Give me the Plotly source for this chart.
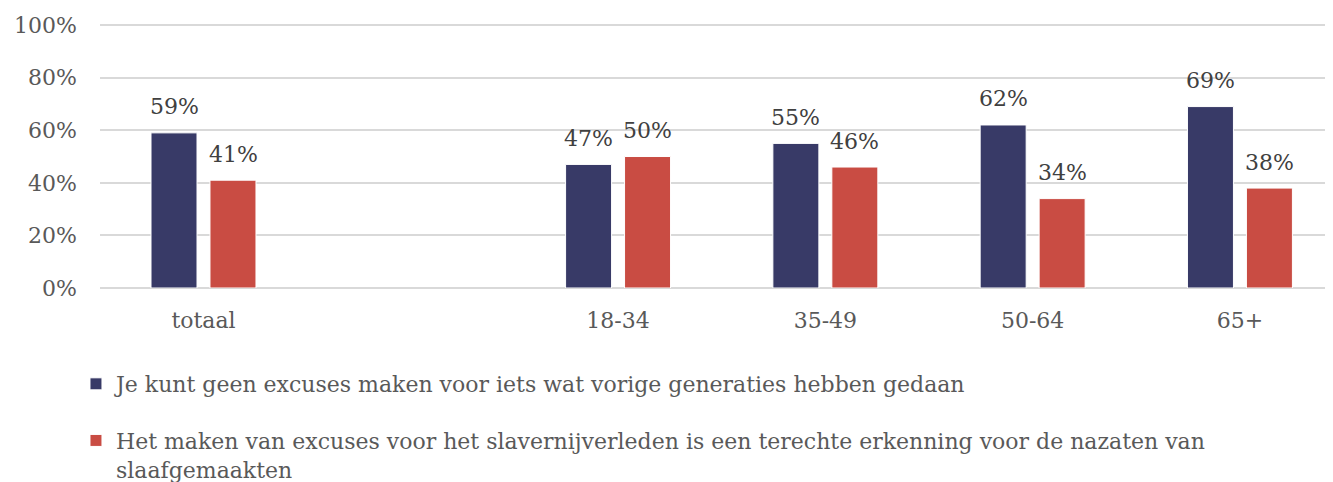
import plotly.graph_objects as go

categories = ["totaal", " ", "18-34", "35-49", "50-64", "65+"]
series1_name = "Je kunt geen excuses maken voor iets wat vorige generaties hebben gedaan"
series2_name = "Het maken van excuses voor het slavernijverleden is een terechte erkenning voor de nazaten van<br>slaafgemaakten"
series1_values = [59, None, 47, 55, 62, 69]
series2_values = [41, None, 50, 46, 34, 38]
y_tick_vals = [0, 20, 40, 60, 80, 100]
y_tick_text = ["0%", "20%", "40%", "60%", "80%", "100%"]

FONT = "DejaVu Serif"
GREY = "#595959"
LABEL = "#404040"
C1 = "#383A67"
C2 = "#C94C43"

fig = go.Figure()
fig.add_trace(go.Bar(
    x=categories, y=series1_values, name=series1_name,
    marker=dict(color=C1, line=dict(width=1, color="#FFFFFF")),
    legendgroup="a",
))
fig.add_trace(go.Bar(
    x=categories, y=series2_values, name=series2_name,
    marker=dict(color=C2, line=dict(width=1, color="#FFFFFF")),
    legendgroup="b",
))

# data labels placed above each bar (shift = half the distance between bar centres)
annotations = []
for vals, shift in ((series1_values, -29.5), (series2_values, 29.5)):
    for cat, v in zip(categories, vals):
        if v is None:
            continue
        annotations.append(dict(
            x=cat, y=v, xref="x", yref="y", text=f"{v}%", showarrow=False,
            xshift=shift, yshift=26, xanchor="center", yanchor="middle",
            font=dict(family=FONT, size=22, color=LABEL),
        ))

# page body has an 8px margin, so the figure is sized to the remaining viewport
fig.update_layout(
    width=1325, height=474,
    margin=dict(l=92, r=0, t=16, b=194, autoexpand=False),
    paper_bgcolor="white", plot_bgcolor="white",
    font=dict(family=FONT, size=22, color=GREY),
    barmode="group", bargap=0.431, bargroupgap=0.22,
    showlegend=True,
    legend=dict(
        xref="container", yref="container",
        x=0.0513, xanchor="left", y=0.251, yanchor="top",
        orientation="v", tracegroupgap=25, valign="top",
        font=dict(family=FONT, size=22, color=GREY),
        bgcolor="rgba(0,0,0,0)",
    ),
    annotations=annotations,
)
fig.update_xaxes(
    type="category", categoryorder="array", categoryarray=categories,
    range=[-0.4993, 5.449], automargin=False,
    showgrid=False, showline=False, zeroline=False,
    ticks="", ticklabelstandoff=17,
    tickfont=dict(family=FONT, size=22, color=GREY),
)
fig.update_yaxes(
    range=[0, 100.4], tickvals=y_tick_vals, ticktext=y_tick_text, automargin=False,
    showgrid=True, gridcolor="#D9D9D9", gridwidth=1.5,
    zeroline=True, zerolinecolor="#D9D9D9", zerolinewidth=1.5,
    showline=False, ticks="", ticklabelstandoff=22,
    tickfont=dict(family=FONT, size=22, color=GREY),
)

fig.write_html("out.html")
